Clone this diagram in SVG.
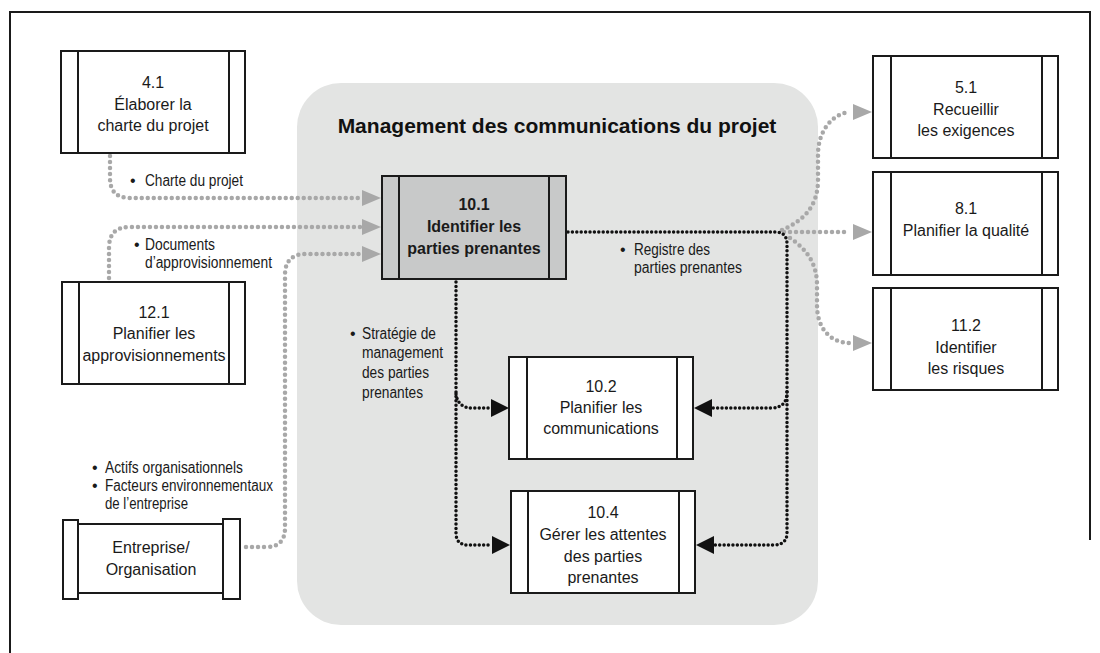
<svg xmlns="http://www.w3.org/2000/svg" width="1100" height="653" viewBox="0 0 1100 653">
<style>
.box{fill:#fff;stroke:#1a1a1a;stroke-width:2}
.box1{fill:#c8c9c9;stroke:#1a1a1a;stroke-width:2}
.bar{stroke:#1a1a1a;stroke-width:2}
.nt{font-family:"Liberation Sans",Arial,sans-serif;font-size:16px;fill:#1a1a1a;text-anchor:middle}
.nb{font-family:"Liberation Sans",Arial,sans-serif;font-size:16px;font-weight:bold;fill:#1a1a1a;text-anchor:middle}
.lb{font-family:"Liberation Sans Narrow","Liberation Sans",Arial,sans-serif;font-size:16px;fill:#1a1a1a}
.title{font-family:"Liberation Sans",Arial,sans-serif;font-size:21px;font-weight:bold;fill:#111;text-anchor:middle}
.g{fill:none;stroke:#a8a8a8;stroke-width:4.5;stroke-linecap:round;stroke-dasharray:0 6}
.k{fill:none;stroke:#111;stroke-width:3.5;stroke-linecap:round;stroke-dasharray:0 4.4}
.ga{fill:#a8a8a8}
.ka{fill:#111}
</style>
<rect width="1100" height="653" fill="#fff"/>
<path d="M10,653 L10,12 L1090,12 L1090,540" fill="none" stroke="#1a1a1a" stroke-width="2"/>
<rect id="region" x="297" y="83" width="521" height="542" rx="44" fill="#e3e4e3"/>
<text class="title" x="557" y="133">Management des communications du projet</text>

<g id="connectors">
<path class="g" d="M110,156 L110,178 Q110,198 130,198 L360,198"/>
<polygon class="ga" points="362,190 381,198 362,206"/>
<path class="g" d="M109,278 L109,248 Q109,227 129,227 L360,227"/>
<polygon class="ga" points="362,219 381,227 362,235"/>
<path class="g" d="M246,547 L266,547 Q285,547 285,528 L285,275 Q285,254 306,254 L360,254"/>
<polygon class="ga" points="362,246 381,254 362,262"/>
<path class="g" d="M782,230 C805,220 818,205 818,180 L818,155 C818,128 835,113 850,112"/>
<polygon class="ga" points="853,104 872,112 853,120"/>
<path class="g" d="M784,232 L850,232"/>
<polygon class="ga" points="853,224 872,232 853,240"/>
<path class="g" d="M790,238 C808,250 817,265 817,285 L817,305 C817,330 832,343 850,343"/>
<polygon class="ga" points="853,335 872,343 853,351"/>
<path class="k" d="M568,232 L775,232 Q787,232 787,244 L787,533 Q787,545 773,545 L714,545"/>
<polygon class="ka" points="714,536 696,545 714,554"/>
<path class="k" d="M787,392 Q787,408 771,408 L712,408"/>
<polygon class="ka" points="712,399 694,408 712,417"/>
<path class="k" d="M456,282 L456,533 Q456,545 468,545 L491,545"/>
<polygon class="ka" points="492,536 510,545 492,554"/>
<path class="k" d="M456,394 Q458,408 472,408 L490,408"/>
<polygon class="ka" points="491,399 509,408 491,417"/>
</g>

<g id="labels">
<text class="lb" x="130" y="186">•</text>
<text class="lb" x="145" y="186" textLength="98" lengthAdjust="spacingAndGlyphs">Charte du projet</text>
<text class="lb" x="134" y="250">•</text>
<text class="lb" x="145" y="250" textLength="70" lengthAdjust="spacingAndGlyphs">Documents</text>
<text class="lb" x="145" y="268" textLength="127" lengthAdjust="spacingAndGlyphs">d’approvisionnement</text>
<text class="lb" x="620" y="255">•</text>
<text class="lb" x="634" y="255" textLength="76" lengthAdjust="spacingAndGlyphs">Registre des</text>
<text class="lb" x="634" y="273" textLength="108" lengthAdjust="spacingAndGlyphs">parties prenantes</text>
<text class="lb" x="350" y="339">•</text>
<text class="lb" x="362" y="339" textLength="74" lengthAdjust="spacingAndGlyphs">Stratégie de</text>
<text class="lb" x="362" y="358" textLength="81" lengthAdjust="spacingAndGlyphs">management</text>
<text class="lb" x="362" y="378" textLength="67" lengthAdjust="spacingAndGlyphs">des parties</text>
<text class="lb" x="362" y="398" textLength="61" lengthAdjust="spacingAndGlyphs">prenantes</text>
<text class="lb" x="92" y="473">•</text>
<text class="lb" x="105" y="473" textLength="138" lengthAdjust="spacingAndGlyphs">Actifs organisationnels</text>
<text class="lb" x="92" y="491">•</text>
<text class="lb" x="105" y="491" textLength="168" lengthAdjust="spacingAndGlyphs">Facteurs environnementaux</text>
<text class="lb" x="105" y="509" textLength="83" lengthAdjust="spacingAndGlyphs">de l’entreprise</text>
</g>

<g id="n41">
<rect class="box" x="61" y="51" width="184" height="102"/>
<line class="bar" x1="78" y1="51" x2="78" y2="153"/><line class="bar" x1="229" y1="51" x2="229" y2="153"/>
<text class="nt" x="153" y="88">4.1</text>
<text class="nt" x="153" y="110">Élaborer la</text>
<text class="nt" x="153" y="131">charte du projet</text>
</g>

<g id="n121">
<rect class="box" x="62" y="282" width="183" height="102"/>
<line class="bar" x1="79" y1="282" x2="79" y2="384"/><line class="bar" x1="229" y1="282" x2="229" y2="384"/>
<text class="nt" x="154" y="318">12.1</text>
<text class="nt" x="154" y="339">Planifier les</text>
<text class="nt" x="154" y="361">approvisionnements</text>
</g>

<g id="nent">
<rect class="box" x="78" y="524" width="145" height="69"/>
<rect class="box" x="63" y="520" width="15" height="79"/>
<rect class="box" x="223" y="519" width="17" height="80"/>
<text class="nt" x="151" y="553">Entreprise/</text>
<text class="nt" x="151" y="575">Organisation</text>
</g>

<g id="n101">
<rect class="box1" x="382" y="176" width="184" height="103"/>
<line class="bar" x1="399" y1="176" x2="399" y2="279"/><line class="bar" x1="549" y1="176" x2="549" y2="279"/>
<text class="nb" x="474" y="210">10.1</text>
<text class="nb" x="474" y="232">Identifier les</text>
<text class="nb" x="474" y="254">parties prenantes</text>
</g>

<g id="n102">
<rect class="box" x="509" y="357" width="184" height="102"/>
<line class="bar" x1="527" y1="357" x2="527" y2="459"/><line class="bar" x1="677" y1="357" x2="677" y2="459"/>
<text class="nt" x="601" y="392">10.2</text>
<text class="nt" x="601" y="413">Planifier les</text>
<text class="nt" x="601" y="434">communications</text>
</g>

<g id="n104">
<rect class="box" x="511" y="491" width="184" height="102"/>
<line class="bar" x1="528" y1="491" x2="528" y2="593"/><line class="bar" x1="679" y1="491" x2="679" y2="593"/>
<text class="nt" x="603" y="518">10.4</text>
<text class="nt" x="603" y="540">Gérer les attentes</text>
<text class="nt" x="603" y="562">des parties</text>
<text class="nt" x="603" y="583">prenantes</text>
</g>

<g id="n51">
<rect class="box" x="873" y="56" width="185" height="102"/>
<line class="bar" x1="891" y1="56" x2="891" y2="158"/><line class="bar" x1="1042" y1="56" x2="1042" y2="158"/>
<text class="nt" x="966" y="93">5.1</text>
<text class="nt" x="966" y="115">Recueillir</text>
<text class="nt" x="966" y="136">les exigences</text>
</g>

<g id="n81">
<rect class="box" x="873" y="172" width="185" height="103"/>
<line class="bar" x1="891" y1="172" x2="891" y2="275"/><line class="bar" x1="1042" y1="172" x2="1042" y2="275"/>
<text class="nt" x="966" y="214">8.1</text>
<text class="nt" x="966" y="236">Planifier la qualité</text>
</g>

<g id="n112">
<rect class="box" x="873" y="288" width="185" height="102"/>
<line class="bar" x1="891" y1="288" x2="891" y2="390"/><line class="bar" x1="1042" y1="288" x2="1042" y2="390"/>
<text class="nt" x="966" y="331">11.2</text>
<text class="nt" x="966" y="353">Identifier</text>
<text class="nt" x="966" y="374">les risques</text>
</g>
</svg>
